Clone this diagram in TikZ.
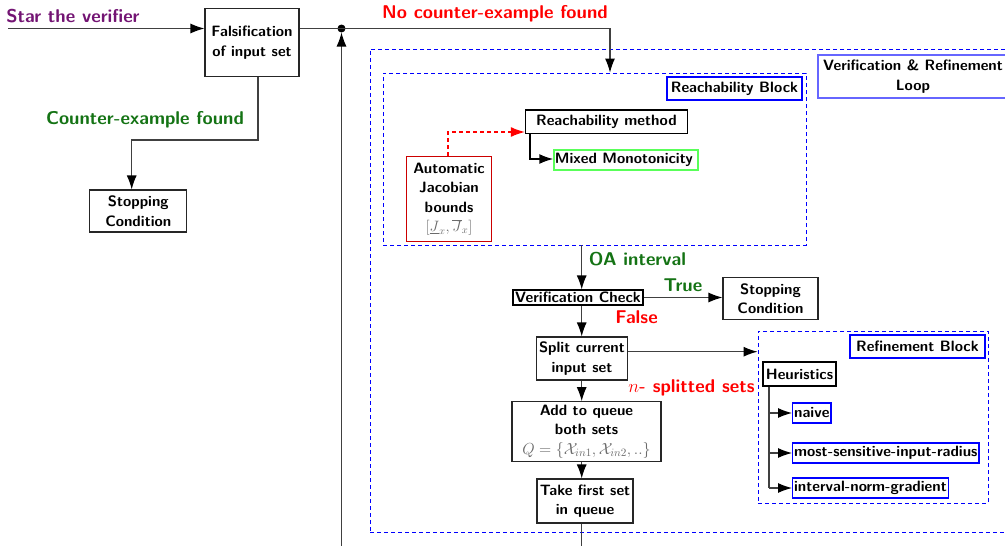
\RequirePackage{fix-cm}
\documentclass[tikz,border=0pt]{standalone}
\usepackage{fontspec}
\usetikzlibrary{arrows.meta}
\newcommand{\bodyf}{\fontsize{15}{19.5}\selectfont\sffamily\bfseries}
\newcommand{\hdrf}{\fontsize{18.5}{22}\selectfont\sffamily\bfseries}
\definecolor{dgreen}{rgb}{0.08,0.45,0.08}
\definecolor{vpurple}{rgb}{0.45,0.08,0.45}
\definecolor{mathgray}{gray}{0.42}
\begin{document}
\begin{tikzpicture}[x=1pt,y=-1pt,
  box/.style={draw=black!85, line width=1.1pt, fill=white, align=center, inner sep=1pt, font=\bodyf},
  bbox/.style={box, draw=blue, line width=1.3pt},
  dbox/.style={draw=blue, dash pattern=on 4pt off 3pt, line width=0.9pt},
  hdr/.style={font=\hdrf, inner sep=0pt},
  arr/.style={draw=black!75, line width=1.1pt, -{Latex[length=14pt,width=10pt,fill=black,color=black]}},
  reddash/.style={draw=red, line width=1.2pt, dash pattern=on 4pt off 3pt, -{Latex[length=14pt,width=10pt,fill=red,color=red]}}]
\useasboundingbox (0,0) rectangle (1005,546);
\clip (0,0) rectangle (1005,546);

% containers
\node[dbox, minimum width=650, minimum height=483] (outer) at (695,290.5) {};
\node[dbox, minimum width=423, minimum height=172] (reach) at (594.5,159) {};
\node[dbox, minimum width=230, minimum height=172] (refine) at (873,417) {};

% nodes
\node[box, minimum width=94, minimum height=68] (fals) at (252,42.5) {Falsification\\of input set};
\node[box, minimum width=97, minimum height=42] (stop1) at (138.3,211) {Stopping\\Condition};
\node[box, draw=blue!60, line width=1.2pt, minimum width=190, minimum height=43] (loop) at (913,76.5) {Verification \& Refinement\\Loop};
\node[bbox, minimum width=135, minimum height=23] (rblock) at (734.5,88.5) {Reachability Block};
\node[box, draw=black, line width=1.4pt, minimum width=162, minimum height=23.5] (rmethod) at (606.5,121.7) {Reachability method};
\node[box, draw=green!65, line width=1.2pt, anchor=west, minimum height=20, inner xsep=1pt] (mixed) at (553.3,160) {Mixed Monotonicity\hspace{4pt}};
\node[box, draw=red!80!black, line width=1.2pt, minimum width=85, minimum height=85] (autojac) at (449,199) {Automatic\\Jacobian\\bounds\\{\color{mathgray}$[\underline{J}_x,\overline{J}_x]$}};
\node[box, draw=black, minimum width=130, minimum height=15, inner sep=0pt] (vcheck) at (578,297.5) {Verification Check};
\node[box, minimum width=95, minimum height=42] (stop2) at (770.5,298.5) {Stopping\\Condition};
\node[box, minimum width=91, minimum height=43] (split) at (582,358.5) {Split current\\input set};
\node[box, minimum width=149, minimum height=60] (addq) at (586.5,431.7) {Add to queue\\both sets\\{\color{mathgray}\fontsize{16}{19.5}\selectfont$Q=\{\mathcal{X}_{in1},\mathcal{X}_{in2},..\}$}};
\node[box, minimum width=96, minimum height=44] (take) at (585,501) {Take first set\\in queue};
\node[bbox, minimum width=135, minimum height=23] (refblock) at (917.5,346.5) {Refinement Block};
\node[box, draw=black, line width=1.2pt, minimum width=73, minimum height=24] (heur) at (799.5,374) {Heuristics};
\node[bbox, anchor=west, minimum height=20, inner xsep=1.5pt] (naive) at (792,413) {naive};
\node[bbox, anchor=west, minimum height=20, inner xsep=1.5pt] (most) at (792,453) {most-sensitive-input-radius};
\node[bbox, anchor=west, minimum height=20, inner xsep=1.5pt] (inorm) at (792,488) {interval-norm-gradient};

% labels
\node[hdr, text=vpurple] (lstar) at (73,16) {Star the verifier};
\node[hdr, text=dgreen] (lce) at (145,120) {Counter-example found};
\node[hdr, text=red] (lnce) at (495,14) {No counter-example found};
\node[hdr, text=dgreen] (loa) at (637.5,259) {OA interval};
\node[hdr, text=dgreen] (ltrue) at (683,285) {True};
\node[hdr, text=red] (lfalse) at (636.5,317) {False};
\node[hdr, text=red] (lsplit) at (691.5,388) {$n$- splitted sets};

% coordinates
\coordinate (start) at (8,28.5);
\coordinate (dot) at (341.5,28.5);
\coordinate (nc) at (610,28.5);
\coordinate (loopb) at (341.5,550);
\coordinate (ce) at (258,140);
\coordinate (ce2) at (131.7,140);
\coordinate (aj) at (448,132);
\coordinate (rm) at (530,159);
\coordinate (ax) at (581.7,0);
\coordinate (sr) at (0,351.7);
\coordinate (hx) at (769,0);
\coordinate (tb) at (581.7,550);

% connectors
\draw[arr] (start) -- (start -| fals.west);
\fill[black] (dot) circle (4);
\draw[arr] (start -| fals.east) -- (dot) -- (nc) -- (nc |- reach.north);
\draw[arr, shorten >=4pt] (loopb) -- (dot);
\draw[arr] (fals.south -| ce) -- (ce) -- (ce2) -- (ce2 |- stop1.north);
\draw[reddash] (autojac.north -| aj) -- (aj) -- (aj -| rmethod.west);
\draw[arr, draw=black, line width=1.6pt] (rmethod.south -| rm) -- (rm) -- (rm -| mixed.west);
\draw[arr] (reach.south -| ax) -- (vcheck.north -| ax);
\draw[arr] (vcheck.east) -- (vcheck.east -| stop2.west);
\draw[arr] (vcheck.south -| ax) -- (split.north -| ax);
\draw[arr] (split.east |- sr) -- (refine.west |- sr);
\draw[arr] (split.south -| ax) -- (addq.north -| ax);
\draw[arr] (addq.south -| ax) -- (take.north -| ax);
\draw[draw=black!75, line width=1.1pt] (take.south -| ax) -- (tb);
\draw[draw=black!75, line width=1.1pt] (heur.south -| hx) -- (hx |- inorm.west);
\draw[arr] (hx |- naive.west) -- (naive.west);
\draw[arr] (hx |- most.west) -- (most.west);
\draw[arr] (hx |- inorm.west) -- (inorm.west);
\end{tikzpicture}
\end{document}
